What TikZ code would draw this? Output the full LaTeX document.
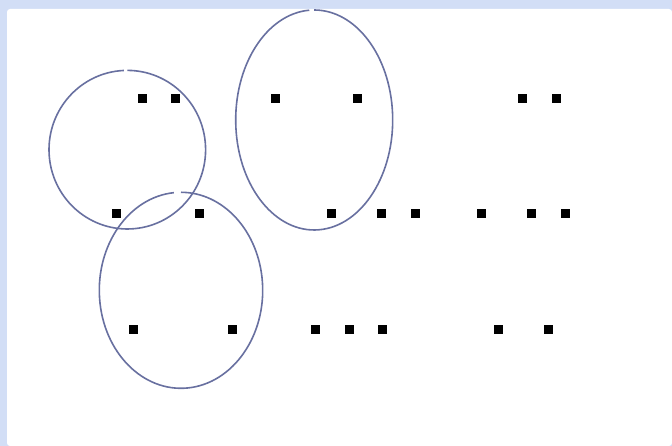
\documentclass[tikz,border=0pt]{standalone}
\begin{document}
\begin{tikzpicture}[x=1pt,y=1pt,
  sq/.style={fill=black,draw=none,minimum size=9pt,inner sep=0pt,outer sep=0pt,shape=rectangle},
  ring/.style={draw=ringc,line width=1.6pt}]
\definecolor{bgc}{HTML}{D2DEF6}
\definecolor{ringc}{HTML}{6870A0}
\useasboundingbox (0,0) rectangle (672,446);
\fill[bgc] (0,0) rectangle (672,446);
\fill[white,rounded corners=3pt] (7,0) -- (7,437) -- (672,437) -- (672,0) -- cycle;
% squares row 1
\node[sq] (a1) at (142.3,347.7) {};
\node[sq] (a2) at (175.7,347.7) {};
\node[sq] (a3) at (275,347.7) {};
\node[sq] (a4) at (357.7,347.7) {};
\node[sq] (a5) at (522.3,347.7) {};
\node[sq] (a6) at (556,347.7) {};
% row 2
\node[sq] (b1) at (116.7,232.7) {};
\node[sq] (b2) at (199.3,232.7) {};
\node[sq] (b3) at (331.7,232.7) {};
\node[sq] (b4) at (381.7,232.7) {};
\node[sq] (b5) at (415,232.7) {};
\node[sq] (b6) at (481.7,232.7) {};
\node[sq] (b7) at (531.7,232.7) {};
\node[sq] (b8) at (565.7,232.7) {};
% row 3
\node[sq] (c1) at (133.3,116.7) {};
\node[sq] (c2) at (232.7,116.7) {};
\node[sq] (c3) at (315.7,116.7) {};
\node[sq] (c4) at (349,116.7) {};
\node[sq] (c5) at (382.7,116.7) {};
\node[sq] (c6) at (498.7,116.7) {};
\node[sq] (c7) at (548.3,116.7) {};
% rings
\coordinate (e1) at (127.3,296.3);
\coordinate (e2) at (314.2,326);
\coordinate (e3) at (181,155.7);
\draw[ring] ([shift={(92.5:78.3 and 79.3)}]e1) arc[start angle=92.5,end angle=450,x radius=78.3,y radius=79.3];
\draw[ring] ([shift={(93.6:78.5 and 110)}]e2) arc[start angle=93.6,end angle=450,x radius=78.5,y radius=110];
\draw[ring] ([shift={(95:81.7 and 98)}]e3) arc[start angle=95,end angle=450,x radius=81.7,y radius=98];
\end{tikzpicture}
\end{document}
